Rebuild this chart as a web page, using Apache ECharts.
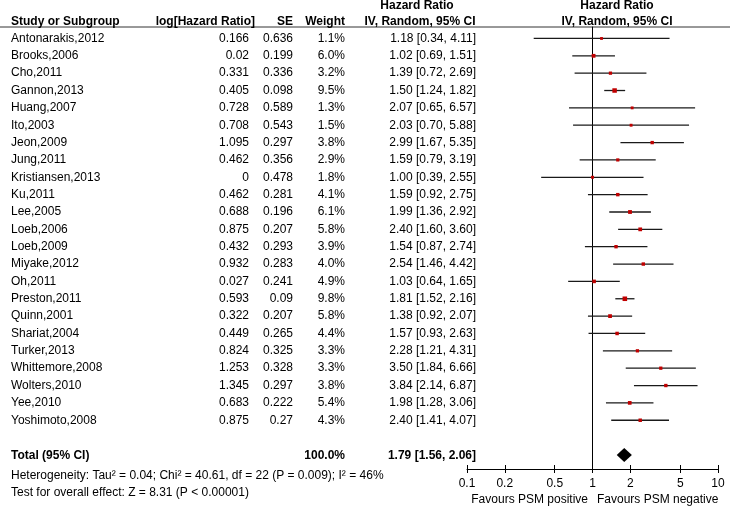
<!DOCTYPE html>
<html>
<head>
<meta charset="utf-8">
<script src="https://cdn.jsdelivr.net/npm/echarts@6/dist/echarts.min.js"></script>
<style>html,body{margin:0;padding:0;background:#fff;}#chart{width:730px;height:508px;}</style>
</head>
<body>
<div id="chart"></div>
<script>
const studies = ["Antonarakis,2012","Brooks,2006","Cho,2011","Gannon,2013","Huang,2007","Ito,2003","Jeon,2009","Jung,2011","Kristiansen,2013","Ku,2011","Lee,2005","Loeb,2006","Loeb,2009","Miyake,2012","Oh,2011","Preston,2011","Quinn,2001","Shariat,2004","Turker,2013","Whittemore,2008","Wolters,2010","Yee,2010","Yoshimoto,2008"];
const logHR = [0.166,0.02,0.331,0.405,0.728,0.708,1.095,0.462,0,0.462,0.688,0.875,0.432,0.932,0.027,0.593,0.322,0.449,0.824,1.253,1.345,0.683,0.875];
const se = [0.636,0.199,0.336,0.098,0.589,0.543,0.297,0.356,0.478,0.281,0.196,0.207,0.293,0.283,0.241,0.09,0.207,0.265,0.325,0.328,0.297,0.222,0.27];
const weight = [1.1,6.0,3.2,9.5,1.3,1.5,3.8,2.9,1.8,4.1,6.1,5.8,3.9,4.0,4.9,9.8,5.8,4.4,3.3,3.3,3.8,5.4,4.3];
const hr = [1.18,1.02,1.39,1.50,2.07,2.03,2.99,1.59,1.00,1.59,1.99,2.40,1.54,2.54,1.03,1.81,1.38,1.57,2.28,3.50,3.84,1.98,2.40];
const ciLow = [0.34,0.69,0.72,1.24,0.65,0.70,1.67,0.79,0.39,0.92,1.36,1.60,0.87,1.46,0.64,1.52,0.92,0.93,1.21,1.84,2.14,1.28,1.41];
const ciHigh = [4.11,1.51,2.69,1.82,6.57,5.88,5.35,3.19,2.55,2.75,2.92,3.60,2.74,4.42,1.65,2.16,2.07,2.63,4.31,6.66,6.87,3.06,4.07];
const totalLabel = "Total (95% CI)";
const totalWeight = 100.0;
const totalHR = [1.79, 1.56, 2.06]; // estimate, lower, upper
const tickValues = [0.1, 0.2, 0.5, 1, 2, 5, 10];
const heterogeneityText = "Heterogeneity: Tau\u00b2 = 0.04; Chi\u00b2 = 40.61, df = 22 (P = 0.009); I\u00b2 = 46%";
const overallText = "Test for overall effect: Z = 8.31 (P < 0.00001)";
const favoursLeft = "Favours PSM positive";
const favoursRight = "Favours PSM negative";

const FONT = '"Liberation Sans", Arial, sans-serif';
const F12 = '12px ' + FONT;
const B12 = 'bold 12px ' + FONT;
const TOTAL_ROW = studies.length + 1;
const Y_MIN = -0.66, Y_MAX = 24.81;
const lg = Math.log10;

function txt(x, y, text, align, font) {
  return {type: 'text', x: x, y: y, style: {text: text, x: 0, y: 0, font: font, fill: '#000',
    align: align, verticalAlign: 'middle', textAlign: align, textVerticalAlign: 'middle'}};
}
function fmtCI(h, l, u) { return h.toFixed(2) + ' [' + l.toFixed(2) + ', ' + u.toFixed(2) + ']'; }

// text table columns (in pixel-like units of grid 1 x-axis)
const COL = {study: 11, logHR: 249, se: 293, weight: 345, ci: 476};

const tableData = studies.map((s, i) => [i]);

const chart = echarts.init(document.getElementById('chart'), null, {renderer: 'canvas'});
chart.setOption({
  animation: false,
  backgroundColor: '#fff',
  grid: [
    {left: 467, right: 12, top: 27, bottom: 39},
    {left: 0, right: 0, top: 27, bottom: 39}
  ],
  xAxis: [
    {type: 'value', gridIndex: 0, min: -1, max: 1, position: 'bottom',
      axisLine: {show: true, onZero: false, lineStyle: {color: '#000', width: 1}},
      axisTick: {show: true, length: 4, customValues: tickValues.map(lg), lineStyle: {color: '#000', width: 1}},
      axisLabel: {show: true, margin: 9, customValues: tickValues.map(lg), color: '#000', fontSize: 12, fontFamily: FONT,
        formatter: v => { let best = tickValues[0]; tickValues.forEach(t => { if (Math.abs(lg(t) - v) < Math.abs(lg(best) - v)) best = t; }); return String(best); }},
      splitLine: {show: false}},
    {type: 'value', gridIndex: 0, min: -1, max: 1, position: 'bottom', offset: 0,
      axisLine: {show: false, onZero: false},
      axisTick: {show: true, inside: true, length: 4, customValues: tickValues.map(lg), lineStyle: {color: '#000', width: 1}},
      axisLabel: {show: false}, splitLine: {show: false}},
    {type: 'value', gridIndex: 1, min: 0, max: 730, show: false}
  ],
  yAxis: [
    {type: 'value', gridIndex: 0, min: Y_MIN, max: Y_MAX, inverse: true,
      axisLine: {show: true, onZero: true, lineStyle: {color: '#000', width: 1}},
      axisTick: {show: false}, axisLabel: {show: false}, splitLine: {show: false}},
    {type: 'value', gridIndex: 1, min: Y_MIN, max: Y_MAX, inverse: true, show: false}
  ],
  graphic: [
    {type: 'line', shape: {x1: 0, y1: 27, x2: 730, y2: 27}, style: {stroke: '#333', lineWidth: 1}},
    txt(11, 22, 'Study or Subgroup', 'left', B12),
    txt(255, 22, 'log[Hazard Ratio]', 'right', B12),
    txt(293, 22, 'SE', 'right', B12),
    txt(345, 22, 'Weight', 'right', B12),
    txt(417, 6, 'Hazard Ratio', 'center', B12),
    txt(420, 22, 'IV, Random, 95% CI', 'center', B12),
    txt(617, 6, 'Hazard Ratio', 'center', B12),
    txt(617, 22, 'IV, Random, 95% CI', 'center', B12),
    txt(11, 476, heterogeneityText, 'left', F12),
    txt(11, 493, overallText, 'left', F12),
    txt(588, 500, favoursLeft, 'right', F12),
    txt(597, 500, favoursRight, 'left', F12)
  ],
  series: [
    {
      type: 'custom', xAxisIndex: 2, yAxisIndex: 1, clip: false,
      data: tableData,
      encode: {y: 0},
      renderItem: (params, api) => {
        const i = api.value(0);
        const y = api.coord([0, i])[1];
        const X = k => api.coord([COL[k], i])[0];
        return {type: 'group', children: [
          txt(X('study'), y, studies[i], 'left', F12),
          txt(X('logHR'), y, String(logHR[i]), 'right', F12),
          txt(X('se'), y, String(se[i]), 'right', F12),
          txt(X('weight'), y, weight[i].toFixed(1) + '%', 'right', F12),
          txt(X('ci'), y, fmtCI(hr[i], ciLow[i], ciHigh[i]), 'right', F12)
        ]};
      }
    },
    {
      type: 'custom', xAxisIndex: 2, yAxisIndex: 1, clip: false,
      data: [[TOTAL_ROW]],
      encode: {y: 0},
      renderItem: (params, api) => {
        const i = api.value(0);
        const y = api.coord([0, i])[1] + 1;
        const X = k => api.coord([COL[k], i])[0];
        return {type: 'group', children: [
          txt(X('study'), y, totalLabel, 'left', B12),
          txt(X('weight'), y, totalWeight.toFixed(1) + '%', 'right', B12),
          txt(X('ci'), y, fmtCI(totalHR[0], totalHR[1], totalHR[2]), 'right', B12)
        ]};
      }
    },
    {
      type: 'custom', xAxisIndex: 0, yAxisIndex: 0, clip: false,
      data: studies.map((s, i) => [i, lg(ciLow[i]), lg(ciHigh[i]), lg(hr[i]), weight[i]]),
      encode: {x: [1, 2, 3], y: 0},
      renderItem: (params, api) => {
        const i = api.value(0);
        const a = api.coord([api.value(1), i]);
        const b = api.coord([api.value(2), i]);
        const c = api.coord([api.value(3), i]);
        const s = 2.6 + 0.2 * api.value(4);
        return {type: 'group', children: [
          {type: 'line', shape: {x1: a[0], y1: a[1], x2: b[0], y2: b[1]}, style: {stroke: '#1a1a1a', lineWidth: 1.3}},
          {type: 'rect', shape: {x: c[0] - s / 2, y: c[1] - s / 2, width: s, height: s}, style: {fill: '#c00000'}}
        ]};
      }
    },
    {
      type: 'custom', xAxisIndex: 0, yAxisIndex: 0, clip: false,
      data: [[TOTAL_ROW, lg(totalHR[1]), lg(totalHR[2]), lg(totalHR[0])]],
      encode: {x: [1, 2, 3], y: 0},
      renderItem: (params, api) => {
        const i = api.value(0);
        const l = api.coord([api.value(1), i]);
        const u = api.coord([api.value(2), i]);
        const m = api.coord([api.value(3), i]);
        const h = 7;
        return {type: 'polygon', shape: {points: [[l[0], l[1]], [m[0], m[1] - h], [u[0], u[1]], [m[0], m[1] + h]]},
          style: {fill: '#000'}};
      }
    }
  ]
});
</script>
</body>
</html>
